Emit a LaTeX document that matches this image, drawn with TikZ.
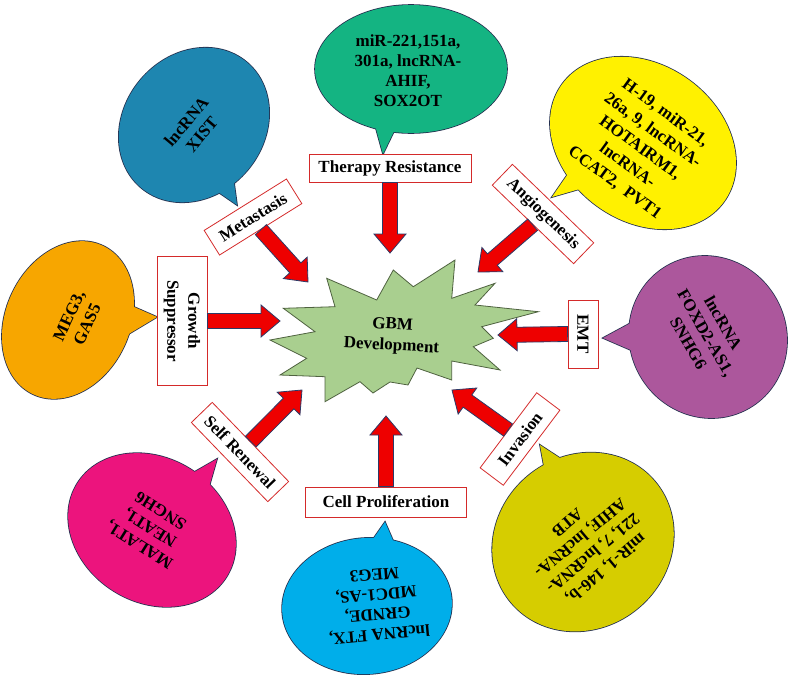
\documentclass[tikz,border=0pt]{standalone}
\usepackage{fontspec}
\setmainfont{Liberation Serif}
\usetikzlibrary{calc}
\definecolor{cXist}{HTML}{1E86B0}
\definecolor{cTher}{HTML}{14B482}
\definecolor{cAng}{HTML}{FFF100}
\definecolor{cGro}{HTML}{F7A600}
\definecolor{cEmt}{HTML}{AC579C}
\definecolor{cInv}{HTML}{D6CD00}
\definecolor{cCel}{HTML}{00AEEA}
\definecolor{cSel}{HTML}{EC147D}
\definecolor{cStar}{HTML}{A9CF8F}
\definecolor{starline}{HTML}{4F6240}
\definecolor{arrred}{HTML}{EE0000}
\definecolor{arrline}{HTML}{2B3A67}
\definecolor{boxred}{HTML}{D42A2A}
\definecolor{bubline}{HTML}{24304F}
\tikzset{
  lbl/.style={draw=boxred, fill=white, line width=0.8pt, font=\bfseries\fontsize{17}{20}\selectfont, inner sep=2pt, align=center},
  btxt/.style={font=\bfseries\fontsize{17}{20}\selectfont, align=center, text=black},
  bub/.style={draw=bubline, line width=1.6pt, line join=miter},
  arr/.style={fill=arrred, draw=arrline, line width=0.8pt, line join=miter},
}
\newcommand{\blockarr}[2]{%
  \coordinate (h) at ($(#2)!19pt!(#1)$);
  \draw[arr] ($(#1)!7.5pt!90:(#2)$) -- ($(h)!7.5pt!90:(#2)$) -- ($(h)!16pt!90:(#2)$) -- (#2)
    -- ($(h)!16pt!-90:(#2)$) -- ($(h)!7.5pt!-90:(#2)$) -- ($(#1)!7.5pt!-90:(#2)$) -- cycle;}
\newcommand{\speech}[6]{%
  \begin{scope}[shift={#2}, rotate=#5]
    \draw[bub, fill=#1] (0,0) ellipse [x radius=#3pt, y radius=#4pt];
  \end{scope}
  \draw[bub, fill=#1] #6 -- cycle;
  \begin{scope}[shift={#2}, rotate=#5]
    \fill[#1] (0,0) ellipse [x radius=#3pt, y radius=#4pt];
  \end{scope}
  \fill[#1] #6 -- cycle;}
\begin{document}
\begin{tikzpicture}[x=1pt,y=-1pt]
\useasboundingbox (0,0) rectangle (790,678);

% speech bubbles
\speech{cXist}{(194,125)}{82}{70}{50}{(208,185) -- (237,205) -- (232,168)}
\speech{cTher}{(411,69)}{96}{64}{0}{(375,125) -- (383,154) -- (397,125)}
\speech{cAng}{(643,143)}{100}{78}{-36}{(572,168) -- (552,197) -- (590,186)}
\speech{cGro}{(68,320)}{82}{62}{65}{(125,303) -- (157,317) -- (127,335)}
\speech{cEmt}{(708,337)}{82}{78}{-60}{(640,318) -- (603,338) -- (640,354)}
\speech{cInv}{(583,542)}{94}{86}{220}{(548,488) -- (540,445) -- (572,466)}
\speech{cCel}{(367,606)}{85}{68}{185}{(364,552) -- (385,522) -- (398,552)}
\speech{cSel}{(152,530)}{88}{72}{148}{(184,478) -- (217,459) -- (207,494)}

\node[btxt, rotate=50] (txist) at (194,128) {lncRNA\\XIST};
\node[btxt] (tther) at (408,71) {miR-221,151a,\\301a, lncRNA-\\AHIF,\\SOX2OT};
\node[btxt, font=\bfseries\fontsize{17}{21.5}\selectfont, rotate=-36] (tang) at (640,148) {H-19, miR-21,\\26a, 9, lncRNA-\\HOTAIRM1,\\lncRNA-\\CCAT2,~~PVT1};
\node[btxt, rotate=65] (tgro) at (78,320) {MEG3,\\GAS5};
\node[btxt, rotate=-60] (temt) at (706,333) {lncRNA\\FOXD2-AS1,\\SNHG6};
\node[btxt, rotate=220] (tinv) at (587,546) {miR-1, 146-b,\\221, 7, lncRNA-\\AHIF, lncRNA-\\ATB};
\node[btxt, rotate=185] (tcel) at (377,605) {lncRNA FTX,\\GRNDE,\\MDC1-AS,\\MEG3};
\node[btxt, rotate=148] (tsel) at (150,528) {MALAT1,\\NEAT1,\\SNGH6};

% central star
\draw[fill=cStar, draw=starline, line width=0.8pt, line join=miter]
 (283.3,308.3) -- (335,306.7) -- (326.7,278.3) -- (376.7,300) -- (393.3,270) -- (413.3,286.7)
 -- (455,260) -- (451.7,298.3) -- (495,283.3) -- (475,305) -- (538.3,311.7) -- (481.7,326.7)
 -- (493.3,338.3) -- (473.3,346.7) -- (500,370) -- (451.7,361) -- (451.7,380) -- (417,368)
 -- (408,385) -- (390,382) -- (373,393) -- (360,381.7) -- (325,401.7) -- (325,376.7)
 -- (280,375) -- (306.7,358.3) -- (270,340) -- (315,331.7) -- cycle;
\node[font=\bfseries\fontsize{17}{21}\selectfont, align=center, rotate=-3] (gbm) at (392,336) {GBM\\Development};

% label boxes
\node[lbl, minimum width=162pt, minimum height=28pt] (ther) at (390,168) {Therapy Resistance};
\node[lbl, minimum width=97pt, minimum height=29pt, rotate=32] (meta) at (253,217) {Metastasis};
\node[lbl, minimum width=113pt, minimum height=29pt, rotate=-44] (angio) at (543,214) {Angiogenesis};
\node[lbl, minimum width=129pt, minimum height=50pt, rotate=-90, font=\bfseries\fontsize{17}{21}\selectfont] (growth) at (182,321) {Growth\\Suppressor};
\node[lbl, minimum width=68pt, minimum height=30pt, rotate=-90] (emt) at (583,334) {EMT};
\node[lbl, minimum width=94pt, minimum height=29pt, rotate=53] (inv) at (520,439) {Invasion};
\node[lbl, minimum width=161pt, minimum height=30pt] (cell) at (386,502) {Cell Proliferation};
\node[lbl, minimum width=110pt, minimum height=29pt, rotate=-46] (self) at (240,452) {Self Renewal};

% arrow tips
\coordinate (pther) at (390,253);
\coordinate (pmeta) at (308,282);
\coordinate (pangio) at (478,272);
\coordinate (pgrowth) at (280,321);
\coordinate (pemt) at (498,335);
\coordinate (pinv) at (452,390);
\coordinate (pcell) at (386,416);
\coordinate (pself) at (302,390);

\blockarr{ther.south}{pther}
\blockarr{meta.south}{pmeta}
\blockarr{angio.south}{pangio}
\blockarr{growth.north}{pgrowth}
\blockarr{emt.south}{pemt}
\blockarr{inv.north}{pinv}
\blockarr{cell.north}{pcell}
\blockarr{self.north}{pself}
\end{tikzpicture}
\end{document}
